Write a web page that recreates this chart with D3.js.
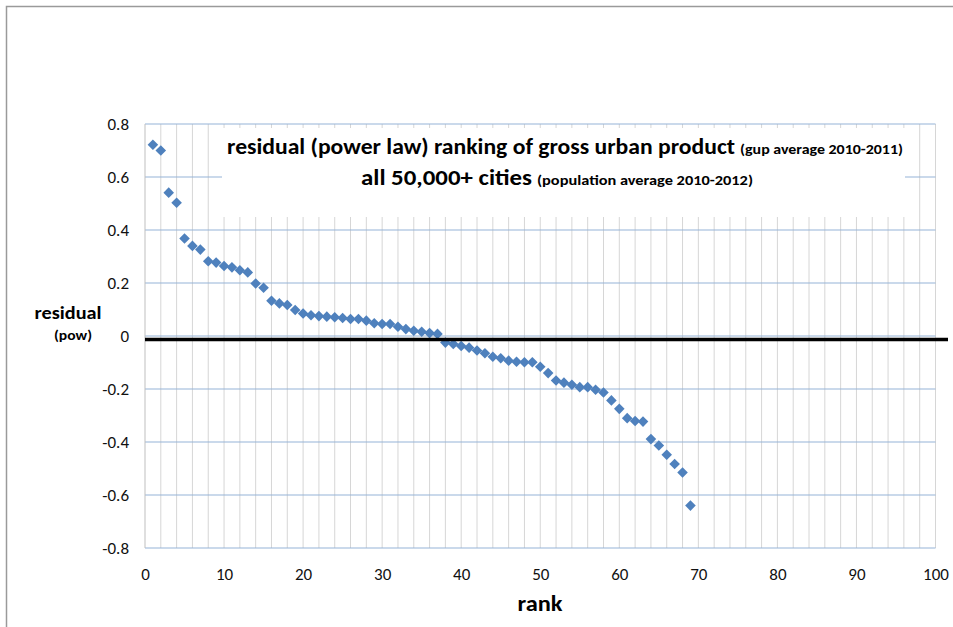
<!DOCTYPE html>
<html><head><meta charset="utf-8">
<script src="https://cdn.jsdelivr.net/npm/d3@7"></script>
<style>body{margin:0;background:#fff}svg{display:block}text{font-family:Carlito,"Open Sans",sans-serif}</style>
</head><body>
<svg id="c" width="953" height="627"></svg>
<script>
const ranks = d3.range(1, 70);
const residuals = [0.722,0.700,0.541,0.503,0.368,0.340,0.326,0.282,0.277,0.264,
0.259,0.248,0.240,0.198,0.182,0.133,0.123,0.117,0.098,0.085,
0.078,0.075,0.073,0.071,0.068,0.064,0.064,0.058,0.048,0.045,
0.045,0.035,0.026,0.020,0.016,0.011,0.008,-0.025,-0.030,-0.038,
-0.044,-0.055,-0.065,-0.078,-0.084,-0.093,-0.097,-0.099,-0.099,-0.116,
-0.140,-0.168,-0.176,-0.184,-0.193,-0.193,-0.203,-0.213,-0.243,-0.275,
-0.310,-0.321,-0.323,-0.389,-0.413,-0.448,-0.483,-0.515,-0.640];
const xTicks = [0,10,20,30,40,50,60,70,80,90,100];
const yTicks = [0.8,0.6,0.4,0.2,0,-0.2,-0.4,-0.6,-0.8];
const refLineValue = -0.013;

const svg = d3.select("#c");
const x = d3.scaleLinear().domain([0,100]).range([145,935.5]);
const y = d3.scaleLinear().domain([-0.8,0.8]).range([548,124]);

// outer frame
svg.append("rect").attr("x",6.5).attr("y",6.5).attr("width",960).attr("height",640)
  .attr("fill","none").attr("stroke","#9a9a9a").attr("stroke-width",1.5);

// vertical gridlines every 2
const g = svg.append("g");
g.selectAll("line.v").data(d3.range(2,101,2)).join("line")
  .attr("x1",d=>x(d)).attr("x2",d=>x(d)).attr("y1",y(0.8)).attr("y2",y(-0.8))
  .attr("stroke","#d6d6d6").attr("stroke-width",1);
// horizontal gridlines
g.selectAll("line.h").data(yTicks).join("line")
  .attr("x1",x(0)).attr("x2",x(100)).attr("y1",d=>y(d)).attr("y2",d=>y(d))
  .attr("stroke","#95b3d7").attr("stroke-width",1);
// left axis
g.append("line").attr("x1",x(0)).attr("x2",x(0)).attr("y1",y(0.8)).attr("y2",y(-0.8))
  .attr("stroke","#bfbfbf");

// axes labels via d3 axes
const yAxis = d3.axisLeft(y).tickValues(yTicks).tickSize(0).tickPadding(16)
  .tickFormat(d=>d===0?"0":d.toFixed(1));
const ya = svg.append("g").attr("transform",`translate(${x(0)},0)`).call(yAxis);
ya.select(".domain").remove();
ya.selectAll("text").style("font-size","17px").attr("fill","#111").style("font-family",'Carlito,"Open Sans",sans-serif');
const xAxis = d3.axisBottom(x).tickValues(xTicks).tickSize(0).tickPadding(20).tickFormat(d=>String(d));
const xa = svg.append("g").attr("transform",`translate(0,${y(-0.8)})`).call(xAxis);
xa.select(".domain").remove();
xa.selectAll("text").style("font-size","17px").attr("fill","#111").style("font-family",'Carlito,"Open Sans",sans-serif');

// title box
svg.append("rect").attr("x",222).attr("y",128).attr("width",683).attr("height",89).attr("fill","#fff");

// points
svg.append("g").selectAll("path").data(ranks).join("path")
  .attr("d", d3.symbol(d3.symbolSquare, 56)())
  .attr("transform",(d,i)=>`translate(${x(d)},${y(residuals[i])}) rotate(45)`)
  .attr("fill","#4f81bd");

// black reference line
svg.append("line").attr("x1",x(0)).attr("x2",948).attr("y1",y(refLineValue)).attr("y2",y(refLineValue))
  .attr("stroke","#000").attr("stroke-width",3.5);

// titles
function txt(s,xx,yy,size,w,anchor,len){
  const t = svg.append("text").attr("x",xx).attr("y",yy).attr("font-size",size)
    .attr("font-weight",w).attr("text-anchor",anchor||"start").attr("fill","#000").text(s);
  if(len) t.attr("textLength",len).attr("lengthAdjust","spacingAndGlyphs");
  return t;
}
txt("residual (power law) ranking of gross urban product",227,154,22,"bold","start",508);
txt("(gup average 2010-2011)",740,154,14,"bold","start",163);
txt("all 50,000+ cities",361,185,22,"bold","start",171);
txt("(population average 2010-2012)",537,185,14,"bold","start",216);
txt("rank",540,611,23,"bold","middle",45);
txt("residual",68,319,18,"bold","middle",67);
txt("(pow)",73,340,14,"bold","middle",38);
</script>
</body></html>
